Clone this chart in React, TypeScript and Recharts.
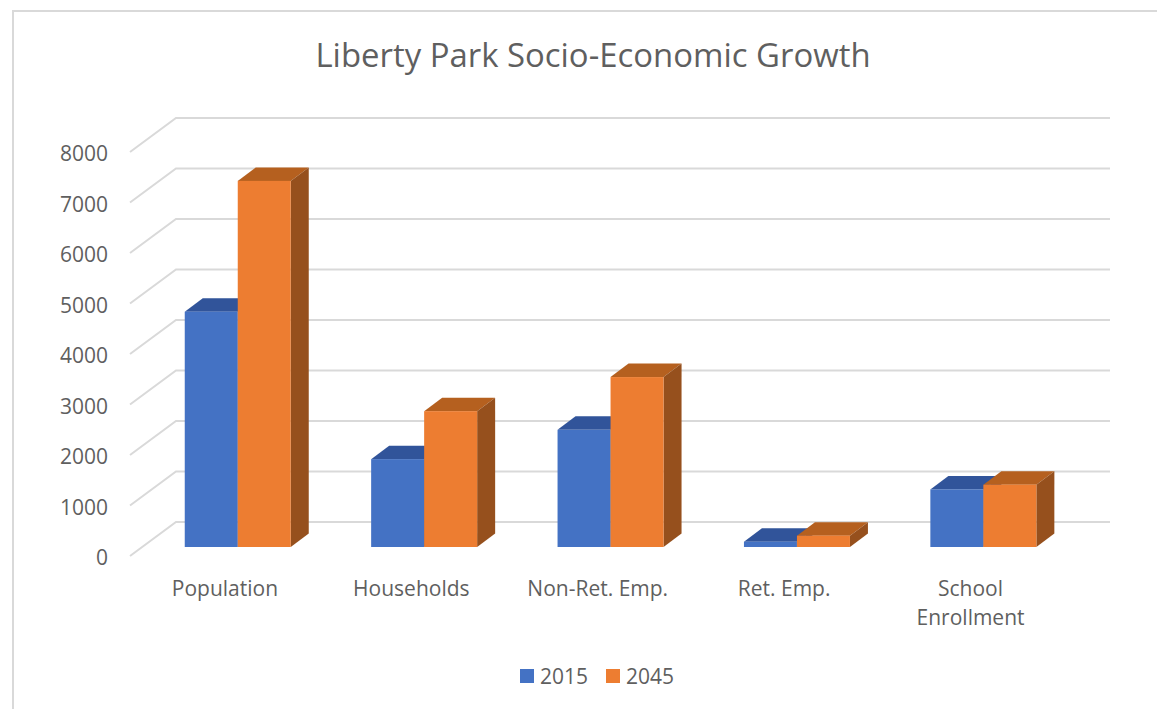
import React from 'react';
import { Bar, BarChart, CartesianGrid, Legend, XAxis, YAxis } from 'recharts';

const categories = ['Population', 'Households', 'Non-Ret. Emp.', 'Ret. Emp.', 'School\nEnrollment'];
const values2015 = [4660, 1740, 2320, 105, 1140];
const values2045 = [7250, 2690, 3365, 225, 1235];
const yTicks = [0, 1000, 2000, 3000, 4000, 5000, 6000, 7000, 8000];

const data = categories.map((name, i) => ({
  name,
  y2015: values2015[i],
  y2045: values2045[i],
}));

const FONT = '"Open Sans", sans-serif';
const TEXT = '#5f5f5f';
const GRID = '#d9d9d9';

// depth of a bar, and of the floor in front of / behind the bars
const DEPTH_X = 18;
const DEPTH_Y = 13.5;
const WALL_LEFT = 130;
const WALL_BACK = 176;
const WALL_RIGHT = 1110;

const Bar3D = ({ x, y, width, height, fill, top, side }: any) => {
  const r = x + width;
  const b = y + height;
  return (
    <g>
      <polygon
        points={`${x},${y} ${x + DEPTH_X},${y - DEPTH_Y} ${r + DEPTH_X},${y - DEPTH_Y} ${r},${y}`}
        fill={top}
      />
      <polygon
        points={`${r},${y} ${r + DEPTH_X},${y - DEPTH_Y} ${r + DEPTH_X},${b - DEPTH_Y} ${r},${b}`}
        fill={side}
      />
      <rect x={x} y={y} width={width} height={height} fill={fill} />
    </g>
  );
};

const gridLine = ({ y1, key }: any) => (
  <path
    key={key}
    d={`M${WALL_LEFT},${y1 + 9} L${WALL_BACK},${y1 - 25} L${WALL_RIGHT},${y1 - 25}`}
    fill="none"
    stroke={GRID}
    strokeWidth={2}
  />
);

const ValueTick = ({ y, payload }: any) => (
  <text x={108} y={y + 18} textAnchor="end" fontFamily={FONT} fontSize={21} fill={TEXT}>
    {payload.value}
  </text>
);

const CategoryTick = ({ x, payload }: any) => (
  <text textAnchor="middle" fontFamily={FONT} fontSize={21} fill={TEXT}>
    {String(payload.value)
      .split('\n')
      .map((line, i) => (
        <tspan key={line} x={x - 13} y={595.5 + i * 29}>
          {line}
        </tspan>
      ))}
  </text>
);

const LegendRow = ({ payload }: any) => (
  <div style={{ display: 'flex', fontFamily: FONT, fontSize: 21, color: TEXT, lineHeight: '28px' }}>
    {(payload || []).map((item: any) => (
      <div key={item.value} style={{ display: 'flex', alignItems: 'center', marginRight: 18 }}>
        <span style={{ width: 14, height: 14, background: item.color, marginRight: 6 }} />
        {item.value}
      </div>
    ))}
  </div>
);

export default function App() {
  return (
    <div
      style={{
        position: 'absolute',
        left: 0,
        top: 0,
        width: 1157,
        height: 709,
        background: '#fff',
        overflow: 'hidden',
      }}
    >
      {/* chart frame, cut off by the page on the right and at the bottom */}
      <div
        style={{
          position: 'absolute',
          left: 12,
          top: 10,
          width: 1200,
          height: 800,
          borderLeft: `2px solid ${GRID}`,
          borderTop: `2px solid ${GRID}`,
        }}
      />
      <BarChart
        width={1157}
        height={709}
        data={data}
        barSize={53}
        barGap={0}
        margin={{ top: 143, right: 80.25, bottom: 0, left: 0 }}
        style={{ position: 'absolute', left: 0, top: 0 }}
      >
        <text
          x={593}
          y={67}
          textAnchor="middle"
          fontFamily={FONT}
          fontSize={32.9}
          fill={TEXT}
        >
          Liberty Park Socio-Economic Growth
        </text>
        <CartesianGrid vertical={false} horizontal={gridLine} />
        <XAxis
          dataKey="name"
          height={134}
          axisLine={false}
          tickLine={false}
          interval={0}
          tick={<CategoryTick />}
        />
        <YAxis
          width={144.75}
          domain={[0, 8000]}
          ticks={yTicks}
          axisLine={false}
          tickLine={false}
          tick={<ValueTick />}
        />
        <Legend
          content={<LegendRow />}
          wrapperStyle={{ left: 520, top: 662, width: 'auto' }}
        />
        <Bar
          dataKey="y2015"
          name="2015"
          fill="#4472C4"
          isAnimationActive={false}
          shape={<Bar3D top="#31549a" side="#2a4a87" />}
        />
        <Bar
          dataKey="y2045"
          name="2045"
          fill="#ED7D31"
          isAnimationActive={false}
          shape={<Bar3D top="#b5601f" side="#96501d" />}
        />
      </BarChart>
    </div>
  );
}
